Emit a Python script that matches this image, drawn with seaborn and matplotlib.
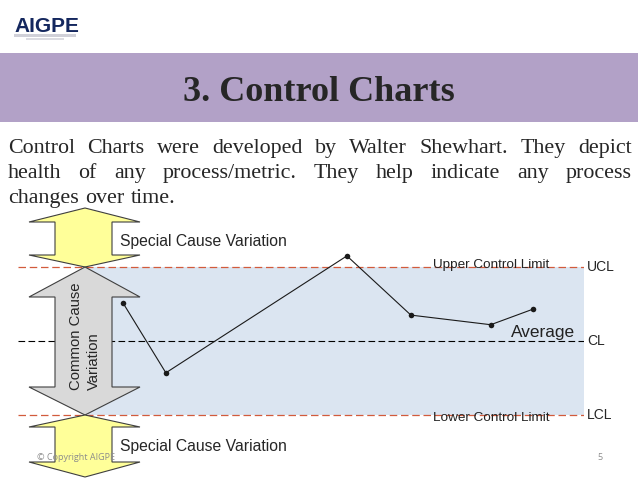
import matplotlib
matplotlib.use("Agg")
import matplotlib.pyplot as plt
from matplotlib.patches import Polygon, Rectangle
import seaborn as sns

# ── Data ─────────────────────────────────────────────────────────────────────
sample_pos = [7.1, 15.7, 52.2, 65.1, 81.2, 89.7]      # position along the band (0-100)
measurement = [25.1, 15.7, 31.5, 23.5, 22.2, 24.3]
ucl, cl, lcl = 30.0, 20.0, 10.0
limit_tags = ["UCL", "CL", "LCL"]

title = "3. Control Charts"
body_lines = [
    "Control Charts were developed by Walter Shewhart. They depict",
    "health of any process/metric. They help indicate any process",
    "changes over time.",
]

# ── Style ────────────────────────────────────────────────────────────────────
sns.set_theme(style="white")
plt.rcParams["font.family"] = ["Liberation Sans", "DejaVu Sans"]

W, H = 638, 479
BAND = "#DBE5F1"
RED = "#D25B3C"
YELLOW = "#FFFF99"
GREY = "#D9D9D9"
EDGE = "#3F3F3F"

fig = plt.figure(figsize=(W / 100, H / 100), dpi=100)
fig.patch.set_facecolor("white")


def px_axes(left, top, right, bottom, zorder):
    return fig.add_axes([left / W, 1 - bottom / H, (right - left) / W, (bottom - top) / H], zorder=zorder)


# ── Control chart (data axes) ────────────────────────────────────────────────
ax = px_axes(18, 240, 584, 440, zorder=1)
ax.set_xlim(-14.11, 100)
ax.set_ylim(6.622, 33.649)
ax.axis("off")
ax.patch.set_visible(False)

ax.fill_between([0, 100], lcl, ucl, color=BAND, lw=0, zorder=0)
ax.axhline(ucl, color=RED, lw=0.9, dashes=(6, 3), zorder=1)
ax.axhline(lcl, color=RED, lw=0.9, dashes=(6, 3), zorder=1)
ax.axhline(cl, color="black", lw=0.8, dashes=(6, 3), zorder=1)

sns.lineplot(x=sample_pos, y=measurement, ax=ax, color="#1a1a1a", lw=0.8,
             marker="o", markersize=4, markeredgewidth=0, zorder=3)

for tag, val in zip(limit_tags, [ucl, cl, lcl]):
    ax.text(100.6, val, tag, ha="left", va="center", fontsize=10, clip_on=False)
ax.text(81.3, ucl + 0.25, "Upper Control Limit", ha="center", va="center", fontsize=9.7, color="#222222")
ax.text(81.3, lcl - 0.45, "Lower Control Limit", ha="center", va="center", fontsize=9.7, color="#222222")
ax.text(98.3, cl + 1.1, "Average", ha="right", va="center", fontsize=12.4, color="#222222")

# ── Slide layer (pixel coords) ───────────────────────────────────────────────
top = px_axes(0, 0, W, H, zorder=2)
top.set_xlim(0, W)
top.set_ylim(H, 0)
top.axis("off")
top.patch.set_visible(False)

# logo
top.text(14, 32, "AIGPE", fontsize=15, fontweight="bold", color="#14275E", va="baseline")
top.add_patch(Rectangle((14, 34), 62, 3, color="#D0D0D8", lw=0))
top.add_patch(Rectangle((26, 38), 38, 2, color="#DCDCE2", lw=0))

# title banner
top.add_patch(Rectangle((0, 53), W, 69, color="#B2A1C7", lw=0))
top.text(W / 2, 101, title, ha="center", va="baseline", fontsize=26, fontweight="bold",
         family=["Liberation Serif", "DejaVu Serif"])

# justified body text
renderer = fig.canvas.get_renderer()
baselines = [153, 178, 203]
for i, (line, yb) in enumerate(zip(body_lines, baselines)):
    words = line.split(" ")
    texts = [top.text(0, yb, w, fontsize=15.8, va="baseline",
                      family=["Liberation Serif", "DejaVu Serif"]) for w in words]
    widths = [t.get_window_extent(renderer).width for t in texts]
    if i < len(body_lines) - 1:
        gap = (632 - 8 - sum(widths)) / (len(words) - 1)
    else:
        gap = texts[0].get_fontsize() * 100 / 72 * 0.3
    x = 8
    for t, w in zip(texts, widths):
        t.set_x(x)
        x += w + gap


def double_arrow(y_top, y_head1, y_head2, y_bot, color):
    cx, hl, hr, sl, sr = 85, 29, 140, 55, 112
    pts = [(cx, y_top), (hr, y_head1), (sr, y_head1), (sr, y_head2), (hr, y_head2),
           (cx, y_bot), (hl, y_head2), (sl, y_head2), (sl, y_head1), (hl, y_head1)]
    top.add_patch(Polygon(pts, closed=True, facecolor=color, edgecolor=EDGE, lw=0.8))


double_arrow(208, 222, 255, 267, YELLOW)
double_arrow(267, 297, 387, 415, GREY)
double_arrow(415, 427, 462, 477, YELLOW)

top.text(85, 336, "Common Cause\nVariation", rotation=90, ha="center", va="center",
         multialignment="left", fontsize=10.7, linespacing=1.4)
top.text(120, 241, "Special Cause Variation", ha="left", va="center", fontsize=11.3)
top.text(120, 446, "Special Cause Variation", ha="left", va="center", fontsize=11.3)

# footer
top.text(37, 457, "© Copyright AIGPE", ha="left", va="center", fontsize=6.5, color="#8C8C8C",
         family=["Open Sans", "DejaVu Sans"])
top.text(597, 457, "5", ha="left", va="center", fontsize=6.5, color="#8C8C8C",
         family=["Open Sans", "DejaVu Sans"])

fig.savefig("out.png", dpi=100)
